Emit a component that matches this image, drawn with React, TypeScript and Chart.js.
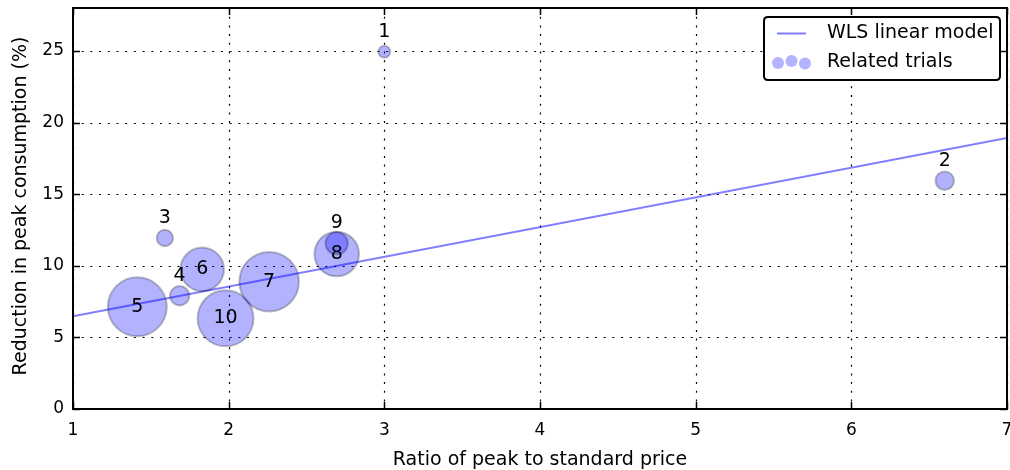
import React, { useEffect, useRef } from "react";
import { Chart, registerables } from "chart.js";

Chart.register(...registerables);

const trialLabels = ["1", "2", "3", "4", "5", "6", "7", "8", "9", "10"];
const priceRatio = [3.0, 6.6, 1.59, 1.685, 1.413, 1.83, 2.26, 2.694, 2.694, 1.98];
const peakReduction = [24.95, 15.94, 11.94, 7.91, 7.14, 9.75, 8.89, 10.82, 11.57, 6.33];
const bubbleSize = [6, 9.3, 8.2, 9.7, 29.5, 21.8, 29.8, 22.3, 11.2, 28];

const modelX = [1, 7];
const modelY = [6.47, 18.93];

const xTicks = [1, 2, 3, 4, 5, 6, 7];
const yTicks = [0, 5, 10, 15, 20, 25];

const FONT = "DejaVu Sans";

const decorPlugin = {
  id: "decor",
  beforeDatasetsDraw(chart: any) {
    const { ctx, chartArea: a, scales } = chart;
    ctx.save();
    ctx.strokeStyle = "#000";
    ctx.lineWidth = 1.2;
    ctx.setLineDash([2, 6.7]);
    xTicks.forEach((v) => {
      const px = Math.round(scales.x.getPixelForValue(v)) + 0.5;
      ctx.beginPath();
      ctx.moveTo(px, a.top);
      ctx.lineTo(px, a.bottom);
      ctx.stroke();
    });
    yTicks.forEach((v) => {
      const py = Math.round(scales.y.getPixelForValue(v)) + 0.5;
      ctx.beginPath();
      ctx.moveTo(a.left, py);
      ctx.lineTo(a.right, py);
      ctx.stroke();
    });
    ctx.restore();
  },
  afterDatasetsDraw(chart: any) {
    const { ctx, chartArea: a, scales } = chart;
    ctx.save();
    // bubble labels
    ctx.fillStyle = "#000";
    ctx.font = `19px "${FONT}"`;
    ctx.textAlign = "center";
    ctx.textBaseline = "middle";
    trialLabels.forEach((lab, i) => {
      const px = scales.x.getPixelForValue(priceRatio[i]);
      const py = scales.y.getPixelForValue(peakReduction[i]);
      const above = bubbleSize[i] < 15;
      ctx.fillText(lab, px, above ? py - 20 : py);
    });
    // tick marks inside
    ctx.strokeStyle = "#000";
    ctx.lineWidth = 1.5;
    ctx.setLineDash([]);
    xTicks.forEach((v) => {
      const px = Math.round(scales.x.getPixelForValue(v)) + 0.5;
      ctx.beginPath();
      ctx.moveTo(px, a.bottom);
      ctx.lineTo(px, a.bottom - 7);
      ctx.moveTo(px, a.top);
      ctx.lineTo(px, a.top + 7);
      ctx.stroke();
    });
    yTicks.forEach((v) => {
      const py = Math.round(scales.y.getPixelForValue(v)) + 0.5;
      ctx.beginPath();
      ctx.moveTo(a.left, py);
      ctx.lineTo(a.left + 7, py);
      ctx.moveTo(a.right, py);
      ctx.lineTo(a.right - 7, py);
      ctx.stroke();
    });
    // frame
    ctx.lineWidth = 2;
    ctx.strokeRect(a.left, a.top, a.right - a.left, a.bottom - a.top);

    // axis titles
    ctx.fillStyle = "#000";
    ctx.font = `19px "${FONT}"`;
    ctx.textAlign = "center";
    ctx.textBaseline = "alphabetic";
    ctx.fillText("Ratio of peak to standard price", (a.left + a.right) / 2, 465);
    ctx.save();
    ctx.translate(26, 206);
    ctx.rotate(-Math.PI / 2);
    ctx.fillText("Reduction in peak consumption (%)", 0, 0);
    ctx.restore();

    // legend
    const lx = 764, ly = 17, lw = 236, lh = 63, r = 4;
    ctx.beginPath();
    ctx.moveTo(lx + r, ly);
    ctx.lineTo(lx + lw - r, ly);
    ctx.quadraticCurveTo(lx + lw, ly, lx + lw, ly + r);
    ctx.lineTo(lx + lw, ly + lh - r);
    ctx.quadraticCurveTo(lx + lw, ly + lh, lx + lw - r, ly + lh);
    ctx.lineTo(lx + r, ly + lh);
    ctx.quadraticCurveTo(lx, ly + lh, lx, ly + lh - r);
    ctx.lineTo(lx, ly + r);
    ctx.quadraticCurveTo(lx, ly, lx + r, ly);
    ctx.closePath();
    ctx.fillStyle = "#fff";
    ctx.fill();
    ctx.strokeStyle = "#000";
    ctx.lineWidth = 2;
    ctx.stroke();

    ctx.strokeStyle = "rgba(0,0,255,0.5)";
    ctx.lineWidth = 2;
    ctx.beginPath();
    ctx.moveTo(777, 33.5);
    ctx.lineTo(806, 33.5);
    ctx.stroke();

    ctx.fillStyle = "#b3b3ff";
    [[778, 63], [791.5, 61], [805, 63.5]].forEach(([cx, cy]) => {
      ctx.beginPath();
      ctx.arc(cx, cy, 6, 0, Math.PI * 2);
      ctx.fill();
    });

    ctx.fillStyle = "#000";
    ctx.font = `19px "${FONT}"`;
    ctx.textAlign = "left";
    ctx.textBaseline = "middle";
    ctx.fillText("WLS linear model", 827, 33.5);
    ctx.fillText("Related trials", 827, 62);
    ctx.restore();
  },
};

export default function App() {
  const ref = useRef<HTMLCanvasElement | null>(null);
  useEffect(() => {
    if (!ref.current) return;
    Chart.defaults.font.family = FONT;
    const chart = new Chart(ref.current, {
      type: "bubble",
      data: {
        datasets: [
          {
            type: "line",
            label: "WLS linear model",
            data: modelX.map((x, i) => ({ x, y: modelY[i] })),
            borderColor: "rgba(0,0,255,0.5)",
            borderWidth: 2,
            pointRadius: 0,
            fill: false,
            clip: 0,
            order: 2,
          } as any,
          {
            type: "bubble",
            label: "Related trials",
            data: priceRatio.map((x, i) => ({ x, y: peakReduction[i], r: bubbleSize[i] })),
            backgroundColor: "rgba(0,0,255,0.3)",
            borderColor: "rgba(0,0,0,0.24)",
            borderWidth: 2,
            hoverRadius: 0,
            order: 1,
          },
        ],
      },
      options: {
        responsive: false,
        animation: false,
        devicePixelRatio: 1,
        layout: { autoPadding: false, padding: { top: 8, right: 3, left: 0, bottom: 0 } },
        plugins: { legend: { display: false }, tooltip: { enabled: false } },
        scales: {
          x: {
            type: "linear",
            min: 1,
            max: 7,
            grid: { display: false, drawTicks: false },
            border: { display: false },
            ticks: { stepSize: 1, color: "#000", font: { size: 17, family: FONT }, padding: 11, maxRotation: 0 },
            afterBuildTicks: (s: any) => {
              s.ticks = xTicks.map((v) => ({ value: v }));
            },
            afterFit: (s: any) => {
              s.height = 61;
              s.paddingLeft = 0;
              s.paddingRight = 0;
            },
          },
          y: {
            type: "linear",
            min: 0,
            max: 28,
            grid: { display: false, drawTicks: false },
            border: { display: false },
            ticks: { color: "#000", font: { size: 17, family: FONT }, padding: 9 },
            afterBuildTicks: (s: any) => {
              s.ticks = yTicks.map((v) => ({ value: v }));
            },
            afterFit: (s: any) => {
              s.width = 73;
              s.paddingTop = 0;
              s.paddingBottom = 0;
            },
          },
        },
      },
      plugins: [decorPlugin],
    });
    return () => chart.destroy();
  }, []);
  return (
    <div style={{ position: "absolute", left: 0, top: 0, width: 1010, height: 470, background: "#fff" }}>
      <canvas ref={ref} width={1010} height={470} style={{ display: "block" }} />
    </div>
  );
}
